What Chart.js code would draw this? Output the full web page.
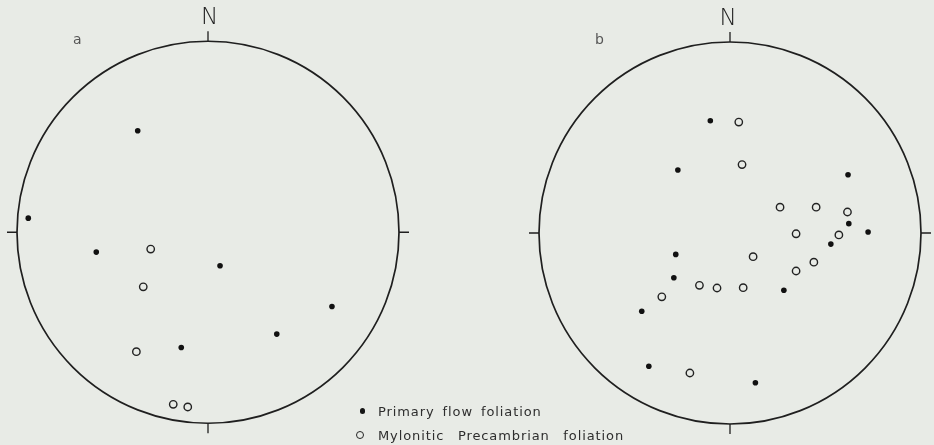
<!DOCTYPE html>
<html><head><meta charset="utf-8">
<script src="https://cdn.jsdelivr.net/npm/chart.js@4"></script>
<style>
html,body{margin:0;padding:0;background:#e8ebe6;width:934px;height:445px;overflow:hidden;position:relative}
canvas{position:absolute;top:0}
.lbl{position:absolute;font-family:"DejaVu Sans",sans-serif;color:#2e2e2e;line-height:1;white-space:nowrap}
.mk{position:absolute;box-sizing:border-box;border-radius:50%}
</style>
</head><body>
<canvas id="netA" width="467" height="445" style="left:0"></canvas>
<canvas id="netB" width="467" height="445" style="left:467px"></canvas>

<div class="lbl" style="left:189.5px;top:4.5px;width:40px;text-align:center;font-size:23px;font-weight:200;color:#222">N</div>
<div class="lbl" style="left:708px;top:6px;width:40px;text-align:center;font-size:23px;font-weight:200;color:#222">N</div>
<div class="lbl" style="left:73px;top:31.5px;font-size:14px;color:#555">a</div>
<div class="lbl" style="left:595px;top:31.5px;font-size:14px;color:#555">b</div>

<span class="mk" style="left:360px;top:408.3px;width:5.4px;height:5.4px;background:#151515"></span>
<div class="lbl" style="left:378px;top:404.5px;font-size:13px;letter-spacing:0.9px;word-spacing:3px">Primary flow foliation</div>
<span class="mk" style="left:355.6px;top:430.6px;width:8.8px;height:8.8px;border:1.4px solid #252525"></span>
<div class="lbl" style="left:378px;top:429px;font-size:13px;letter-spacing:0.9px;word-spacing:8.6px">Mylonitic Precambrian foliation</div>

<script>
// Stereonet coordinates (unit circle, north up) of poles
const flowA = [[-0.368,0.532],[-0.941,0.074],[-0.585,-0.104],[0.063,-0.176],[0.649,-0.389],[0.360,-0.534],[-0.140,-0.604]];
const mylonA = [[-0.300,-0.088],[-0.339,-0.286],[-0.375,-0.626],[-0.182,-0.902],[-0.106,-0.916]];
const flowB = [[-0.103,0.588],[-0.273,0.330],[0.618,0.305],[0.622,0.049],[0.723,0.005],[0.528,-0.058],[-0.284,-0.112],[-0.294,-0.234],[0.282,-0.300],[-0.462,-0.410],[-0.425,-0.698],[0.133,-0.784]];
const mylonB = [[0.046,0.581],[0.063,0.358],[0.262,0.135],[0.451,0.135],[0.615,0.110],[0.346,-0.004],[0.570,-0.010],[0.121,-0.124],[0.439,-0.153],[0.346,-0.199],[-0.160,-0.274],[-0.068,-0.288],[0.069,-0.286],[-0.357,-0.334],[-0.210,-0.733]];
const seriesNames = ['Primary flow foliation','Mylonitic Precambrian foliation'];

const netPlugin = {
  id:'net',
  beforeDatasetsDraw(chart){
    const {ctx, scales:{x,y}} = chart;
    const cx = x.getPixelForValue(0), cy = y.getPixelForValue(0);
    const r = (x.getPixelForValue(1) - x.getPixelForValue(-1))/2;
    const t = 10;
    ctx.save();
    ctx.strokeStyle = '#1f1f1f';
    ctx.lineWidth = 1.7;
    ctx.beginPath();
    ctx.arc(cx, cy, r, 0, Math.PI*2);
    ctx.stroke();
    ctx.lineWidth = 1.3;
    ctx.beginPath();
    ctx.moveTo(cx, cy - r); ctx.lineTo(cx, cy - r - t);
    ctx.moveTo(cx, cy + r); ctx.lineTo(cx, cy + r + t);
    ctx.moveTo(cx - r, cy); ctx.lineTo(cx - r - t, cy);
    ctx.moveTo(cx + r, cy); ctx.lineTo(cx + r + t, cy);
    ctx.stroke();
    ctx.restore();
  }
};

function toPts(arr){ return arr.map(p => ({x:p[0], y:p[1]})); }

function makeNet(id, flow, mylon, pad){
  return new Chart(document.getElementById(id), {
    type:'scatter',
    data:{datasets:[
      {label:seriesNames[0], data:toPts(flow), pointRadius:2.8, pointHoverRadius:2.8,
       pointBackgroundColor:'#111', pointBorderWidth:0, clip:false},
      {label:seriesNames[1], data:toPts(mylon), pointRadius:3.7, pointHoverRadius:3.7,
       pointBackgroundColor:'rgba(0,0,0,0)', pointBorderColor:'#222', pointBorderWidth:1.4, clip:false}
    ]},
    options:{
      responsive:false, animation:false, devicePixelRatio:1, events:[],
      layout:{padding:pad},
      scales:{
        x:{type:'linear', min:-1, max:1, display:false},
        y:{type:'linear', min:-1, max:1, display:false}
      },
      plugins:{legend:{display:false}, tooltip:{enabled:false}}
    },
    plugins:[netPlugin]
  });
}

makeNet('netA', flowA, mylonA, {left:17, right:68, top:41.5, bottom:22});
makeNet('netB', flowB, mylonB, {left:72, right:13, top:42, bottom:21});
</script>
</body></html>
